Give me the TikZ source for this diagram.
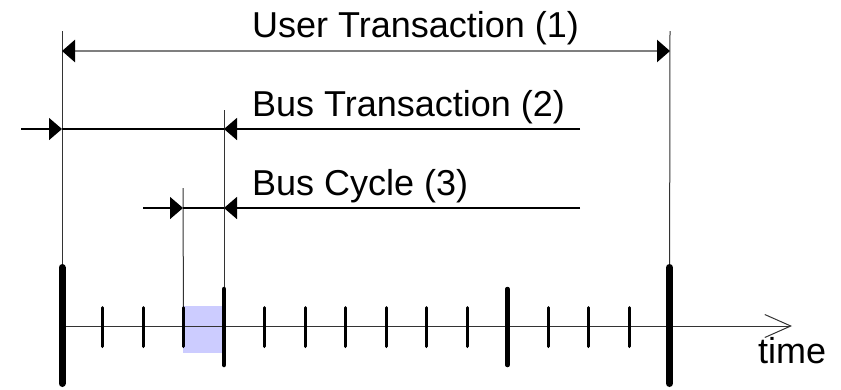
\documentclass[tikz,border=0pt]{standalone}
\usepackage{fontspec}
\setmainfont{Liberation Sans}
\usetikzlibrary{arrows.meta, positioning}
\definecolor{cgray}{HTML}{7F7F7F}
\definecolor{cdark}{HTML}{333333}
\definecolor{lightviolet}{HTML}{CCCCFF}

\tikzset{
  lbl/.style={font=\fontsize{36}{40}\selectfont, inner sep=0pt, anchor=base west},
  dimtip/.style={-{Triangle[length=13pt, width=22pt, color=black]}},
  dimline/.style={black, line width=1.6pt},
  userline/.style={cgray, line width=2.6pt},
  extline/.style={cdark, line width=1pt},
  smalltick/.style={line width=3pt, line cap=round},
  midtick/.style={line width=4.5pt, line cap=round},
  bigtick/.style={line width=7pt, line cap=round},
}

\begin{document}
\begin{tikzpicture}[x=1pt, y=-1pt]
  \useasboundingbox (0,0) rectangle (841,389);

  % clock ticks on the time axis
  \foreach \k in {0,...,15}{
    \coordinate (t\k) at ({62+40.5*\k},326);
  }
  \coordinate (axend) at (792,326);

  % highlighted bus cycle
  \fill[lightviolet] (183,306) rectangle (224,353);

  % extension lines
  \coordinate (top0) at (62,31);
  \coordinate (top15) at (670,31);
  \coordinate (top4) at (224,110);
  \coordinate (top3) at (183,188);
  \draw[extline] (top0) -- (t0);
  \draw[extline] (top15) -- (t15);
  \draw[extline] (top4) -- (t4);
  \draw[extline] (top3) -- (t3);

  % time axis
  \draw[cdark, line width=1pt, -{Straight Barb[length=26pt, width=23pt, line width=1pt]}] (t0) -- (axend);
  \node[lbl, anchor=base west] (timelbl) at (758,363) {time};

  \foreach \k in {1,2,3,5,6,7,8,9,10,12,13,14}{
    \draw[smalltick] ([yshift=18.5pt]t\k) -- ([yshift=-20.5pt]t\k);
  }
  \foreach \k in {4,11}{
    \draw[midtick] ([yshift=37pt]t\k) -- ([yshift=-39pt]t\k);
  }
  \foreach \k in {0,15}{
    \draw[bigtick] ([yshift=58.5pt]t\k) -- ([yshift=-57.5pt]t\k);
  }

  % User Transaction (1)
  \coordinate (u1) at (62,51);
  \coordinate (u2) at (670,51);
  \draw[userline, {Triangle[length=13pt, width=22pt, color=black]}-{Triangle[length=13pt, width=22pt, color=black]}] (u1) -- (u2);
  \node[lbl] (userlbl) at (252,37) {User Transaction (1)};

  % Bus Transaction (2)
  \coordinate (b0) at (21,129);
  \coordinate (b1) at (62,129);
  \coordinate (b2) at (224,129);
  \coordinate (b3) at (580,129);
  \draw[dimline, dimtip] (b0) -- (b1);
  \draw[dimline] (b1) -- (b2);
  \draw[dimline, dimtip] (b3) -- (b2);
  \node[lbl] (buslbl) at (252,116) {Bus Transaction (2)};

  % Bus Cycle (3)
  \coordinate (c0) at (143,208);
  \coordinate (c1) at (183,208);
  \coordinate (c2) at (224,208);
  \coordinate (c3) at (580,208);
  \draw[dimline, dimtip] (c0) -- (c1);
  \draw[dimline] (c1) -- (c2);
  \draw[dimline, dimtip] (c3) -- (c2);
  \node[lbl] (cyclelbl) at (252,195) {Bus Cycle (3)};
\end{tikzpicture}
\end{document}
